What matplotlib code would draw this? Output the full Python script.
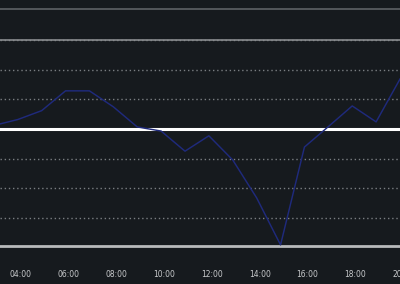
import matplotlib
matplotlib.use("Agg")
import matplotlib.pyplot as plt
import matplotlib.transforms as mtransforms

hours = [3, 4, 5, 6, 7, 8, 9, 10, 11, 12, 13, 14, 15, 16, 17, 18, 19, 20]
values = [0.12, 0.32, 0.62, 1.29, 1.29, 0.75, 0.07, -0.07, -0.75, -0.23,
          -1.05, -2.33, -3.92, -0.61, 0.08, 0.78, 0.24, 1.69]
tick_hours = [4, 6, 8, 10, 12, 14, 16, 18, 20]
tick_labels = ["04:00", "06:00", "08:00", "10:00", "12:00", "14:00", "16:00", "18:00", "20:00"]
grid_levels = [-3, -2, -1, 1, 2, 3]

BG = "#161a1e"
fig = plt.figure(figsize=(4.0, 2.84), dpi=100, facecolor=BG)
ax = fig.add_axes([0, (284 - 246) / 284, 1, (246 - 9) / 284])
ax.set_facecolor(BG)

ax.set_xlim(3.256, 19.785)
ax.set_ylim(-3.957, 4.058)

for g in grid_levels:
    ax.axhline(g, color="#7a7e82", lw=1.0, ls=(0, (1, 2)), zorder=1)
ax.axhline(3, color="#8a8d90", lw=1.2, zorder=1.5)
ax.axhline(0, color="#ffffff", lw=2.2, zorder=2)
ax.axhline(-3.957, color="#b8babc", lw=2.0, zorder=2, clip_on=False)
ax.axhline(4.058, color="#5e6266", lw=1.2, zorder=2, clip_on=False)

ax.plot(hours, values, color="#1f2a7c", lw=1.05, zorder=3)

for s in ax.spines.values():
    s.set_visible(False)
ax.set_yticks([])
ax.set_xticks(tick_hours)
ax.set_xticklabels(tick_labels, fontsize=5.5, color="#c8cacc", family="DejaVu Sans")
ax.tick_params(axis="x", length=0, pad=17)
offset = mtransforms.ScaledTranslation(3 / 100, 0, fig.dpi_scale_trans)
for lab in ax.get_xticklabels():
    lab.set_transform(lab.get_transform() + offset)

fig.savefig("out.png", dpi=100, facecolor=BG)
